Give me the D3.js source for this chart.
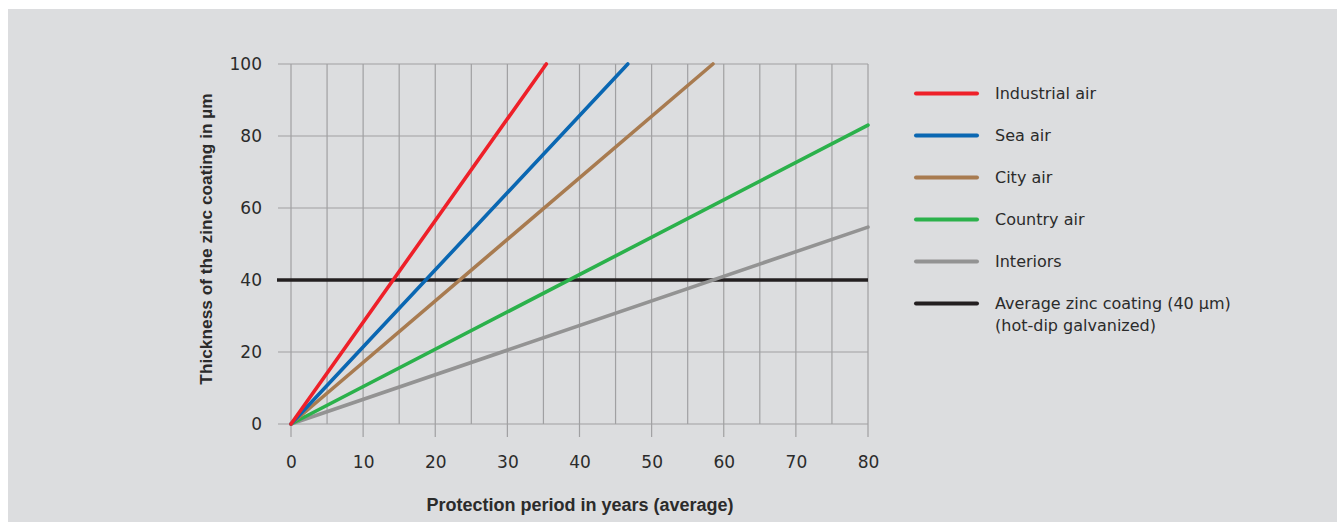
<!DOCTYPE html>
<html><head><meta charset="utf-8">
<script src="https://cdn.jsdelivr.net/npm/d3@7"></script>
<style>html,body{margin:0;padding:0;background:#fff;}svg{display:block;}</style>
</head><body>
<svg id="c" width="1337" height="522"></svg>
<script>
const seriesNames = ["Industrial air","Sea air","City air","Country air","Interiors"];
const seriesColors = ["#ee2029","#0a67b2","#a87b50","#2bb14b","#939393"];
// each series: straight line from (0,0) to end point [years, µm]
const seriesEnds = [[35.4,100],[46.7,100],[58.5,100],[80,83],[80,54.7]];
const refLabel = ["Average zinc coating (40 µm)","(hot-dip galvanized)"];
const refValue = 40;
const refColor = "#231f20";
const xTicks = [0,10,20,30,40,50,60,70,80];
const xGrid = [5,10,15,20,25,30,35,40,45,50,55,60,65,70,75,80];
const yTicks = [0,20,40,60,80,100];
const xTitle = "Protection period in years (average)";
const yTitle = "Thickness of the zinc coating in µm";

const svg = d3.select("#c");
const font = "'DejaVu Sans', Verdana, sans-serif";
const boldFont = "'Liberation Sans', Arial, sans-serif";
const textColor = "#2b2b2b";
svg.append("rect").attr("x",8).attr("y",9).attr("width",1329).attr("height",513).attr("fill","#dcdddf");

const x = d3.scaleLinear().domain([0,80]).range([291,868]);
const y = d3.scaleLinear().domain([0,100]).range([424,64]);
const gridColor = "#a0a0a2";

// vertical grid lines
svg.append("g").selectAll("line").data(xGrid).join("line")
  .attr("x1",d=>x(d)).attr("x2",d=>x(d)).attr("y1",y(100)).attr("y2",d=>d%10===0?437:y(0))
  .attr("stroke",gridColor).attr("stroke-width",1.2);
svg.append("line").attr("x1",x(0)).attr("x2",x(0)).attr("y1",y(100)).attr("y2",437).attr("stroke",gridColor).attr("stroke-width",1.2);
// horizontal grid lines
svg.append("g").selectAll("line").data(yTicks).join("line")
  .attr("x1",278).attr("x2",x(80)).attr("y1",d=>y(d)).attr("y2",d=>y(d))
  .attr("stroke",gridColor).attr("stroke-width",1.2);

// axes labels via d3 axes (lines hidden)
const xa = svg.append("g").attr("transform","translate(0,468)").call(d3.axisBottom(x).tickValues(xTicks).tickSize(0).tickPadding(0));
xa.select(".domain").remove();
xa.selectAll("text").attr("font-family",font).attr("font-size",17).attr("fill",textColor).attr("dy",0).attr("y",0);
const ya = svg.append("g").attr("transform","translate(262,0)").call(d3.axisLeft(y).tickValues(yTicks).tickSize(0).tickPadding(0));
ya.select(".domain").remove();
ya.selectAll("text").attr("font-family",font).attr("font-size",17).attr("fill",textColor).attr("dy","0.32em");

// reference line
svg.append("line").attr("x1",277).attr("x2",x(80)).attr("y1",y(refValue)).attr("y2",y(refValue))
  .attr("stroke",refColor).attr("stroke-width",3.6);

// series lines
const line = d3.line().x(d=>x(d[0])).y(d=>y(d[1]));
seriesEnds.slice().reverse().forEach((e,i)=>{
  const k = seriesEnds.length-1-i;
  svg.append("path").attr("d",line([[0,0],e])).attr("fill","none")
    .attr("stroke",seriesColors[k]).attr("stroke-width",3.6).attr("stroke-linecap","round");
});

// titles
svg.append("text").attr("x",580).attr("y",511).attr("text-anchor","middle")
  .attr("font-family",boldFont).attr("font-weight","bold").attr("font-size",18).attr("fill",textColor).text(xTitle);
svg.append("text").attr("transform","translate(212,239) rotate(-90)").attr("text-anchor","middle")
  .attr("font-family",boldFont).attr("font-weight","bold").attr("font-size",17.3).attr("fill",textColor).text(yTitle);

// legend
const legY = [93.5,135.5,177.5,219.5,261.5,303.5];
const legNames = seriesNames.concat([refLabel[0]]);
const legColors = seriesColors.concat([refColor]);
legNames.forEach((n,i)=>{
  svg.append("line").attr("x1",916).attr("x2",977).attr("y1",legY[i]).attr("y2",legY[i])
    .attr("stroke",legColors[i]).attr("stroke-width",4).attr("stroke-linecap","round");
  svg.append("text").attr("x",995).attr("y",legY[i]+5).attr("font-family",font).attr("font-size",16)
    .attr("fill",textColor).text(n);
});
svg.append("text").attr("x",995).attr("y",legY[5]+27).attr("font-family",font).attr("font-size",16)
  .attr("fill",textColor).text(refLabel[1]);
</script>
</body></html>
